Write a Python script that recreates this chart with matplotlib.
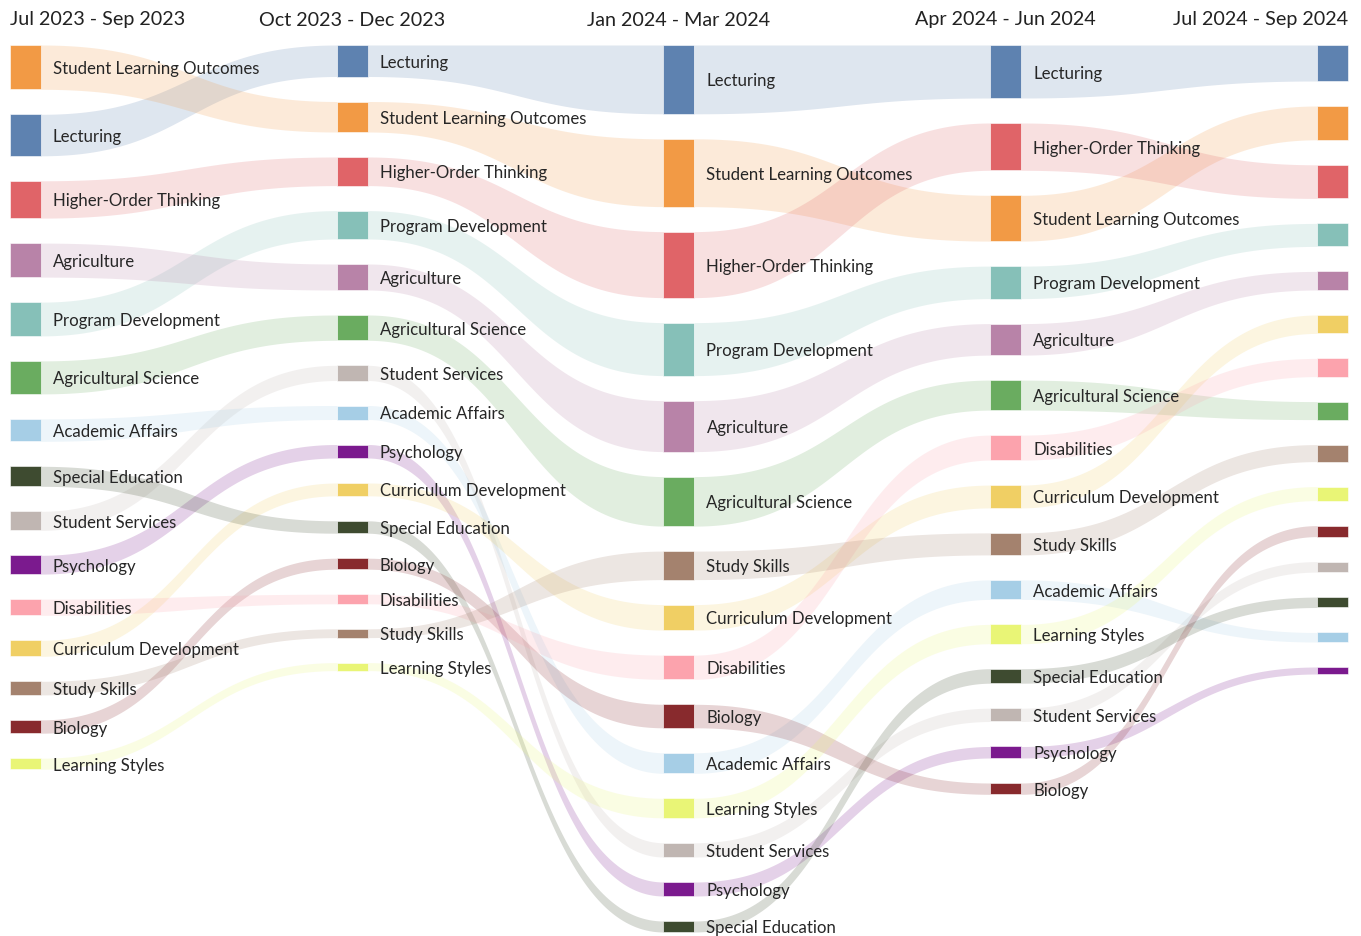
import matplotlib
matplotlib.use("Agg")
import matplotlib.pyplot as plt
import numpy as np

# periods (columns of the alluvial chart)
periods = ["Jul 2023 - Sep 2023", "Oct 2023 - Dec 2023", "Jan 2024 - Mar 2024",
           "Apr 2024 - Jun 2024", "Jul 2024 - Sep 2024"]

categories = ["Lecturing", "Student Learning Outcomes", "Higher-Order Thinking",
              "Program Development", "Agriculture", "Agricultural Science",
              "Student Services", "Academic Affairs", "Psychology",
              "Curriculum Development", "Special Education", "Biology",
              "Disabilities", "Study Skills", "Learning Styles"]

# value of each category in each period (same order as categories)
values_p1 = [41.5, 44.3, 37.3, 33.8, 34.0, 33.0, 19.0, 22.4, 18.8, 16.0, 20.0, 13.3, 16.2, 13.6, 11.0]
values_p2 = [31.5, 30.5, 28.6, 28.4, 26.0, 25.3, 15.2, 14.0, 13.5, 12.8, 12.4, 11.0, 9.6, 8.8, 8.0]
values_p3 = [68.8, 67.8, 66.0, 53.0, 51.0, 49.5, 14.2, 20.5, 14.0, 25.5, 11.0, 23.5, 24.2, 28.5, 19.5]
values_p4 = [53.0, 45.8, 47.3, 32.5, 31.5, 30.0, 13.3, 19.5, 11.5, 22.8, 14.5, 11.3, 25.0, 22.0, 19.3]
values_p5 = [36.0, 33.8, 33.6, 23.0, 18.6, 18.0, 10.5, 9.5, 7.0, 18.4, 10.4, 11.0, 18.2, 17.0, 14.0]
values = [values_p1, values_p2, values_p3, values_p4, values_p5]

colors = {
    "Lecturing": "#5e82b0",
    "Student Learning Outcomes": "#f29a45",
    "Higher-Order Thinking": "#e06468",
    "Program Development": "#86c0b8",
    "Agriculture": "#b883a8",
    "Agricultural Science": "#6aac60",
    "Student Services": "#c0b6b2",
    "Academic Affairs": "#a6cee6",
    "Psychology": "#7b1a8e",
    "Curriculum Development": "#f0cf64",
    "Special Education": "#3e4b30",
    "Biology": "#882a2d",
    "Disabilities": "#fca3ad",
    "Study Skills": "#a4826e",
    "Learning Styles": "#e9f576",
}

plt.rcParams["font.family"] = ["Lato", "DejaVu Sans"]

W, H = 1361, 937
fig = plt.figure(figsize=(W / 100, H / 100), dpi=100)
ax = fig.add_axes([0, 0, 1, 1])
ax.set_xlim(0, W)
ax.set_ylim(H, 0)
ax.axis("off")

node_w = 31
gap = 25.0
top = 46
col_x = np.linspace(10, W - 13 - node_w, len(periods))

# stack nodes per column, largest on top
pos = []
for vals in values:
    order = sorted(range(len(categories)), key=lambda i: -vals[i])
    y = top
    p = {}
    for i in order:
        p[categories[i]] = (y, y + vals[i])
        y += vals[i] + gap
    pos.append(p)

# links
t = np.linspace(0, 1, 120)
for c in range(len(periods) - 1):
    x0 = col_x[c] + node_w
    x1 = col_x[c + 1]
    xm = (x0 + x1) / 2
    xs = (1 - t) ** 3 * x0 + 3 * (1 - t) ** 2 * t * xm + 3 * (1 - t) * t ** 2 * xm + t ** 3 * x1
    s = 3 * (1 - t) * t ** 2 + t ** 3
    for cat in categories:
        a0, b0 = pos[c][cat]
        a1, b1 = pos[c + 1][cat]
        ax.fill_between(xs, a0 + (a1 - a0) * s, b0 + (b1 - b0) * s,
                        color=colors[cat], alpha=0.2, lw=0, zorder=1)

# nodes and labels
for c in range(len(periods)):
    for cat in categories:
        a, b = pos[c][cat]
        ax.add_patch(plt.Rectangle((col_x[c], a), node_w, b - a,
                                   facecolor=colors[cat], edgecolor="white",
                                   lw=0.4, zorder=2))
        if c < len(periods) - 1:
            ax.text(col_x[c] + node_w + 12, (a + b) / 2 + 1, cat, fontsize=12.1,
                    color="#262626", va="center", ha="left", zorder=3)

# column headers
for c, name in enumerate(periods):
    if c == 0:
        hx, ha = col_x[c], "left"
    elif c == len(periods) - 1:
        hx, ha = col_x[c] + node_w, "right"
    else:
        hx, ha = col_x[c] + node_w / 2, "center"
    ax.text(hx, 20, name, fontsize=14.2, color="#222222", ha=ha, va="center")

fig.savefig("out.png", dpi=100)
